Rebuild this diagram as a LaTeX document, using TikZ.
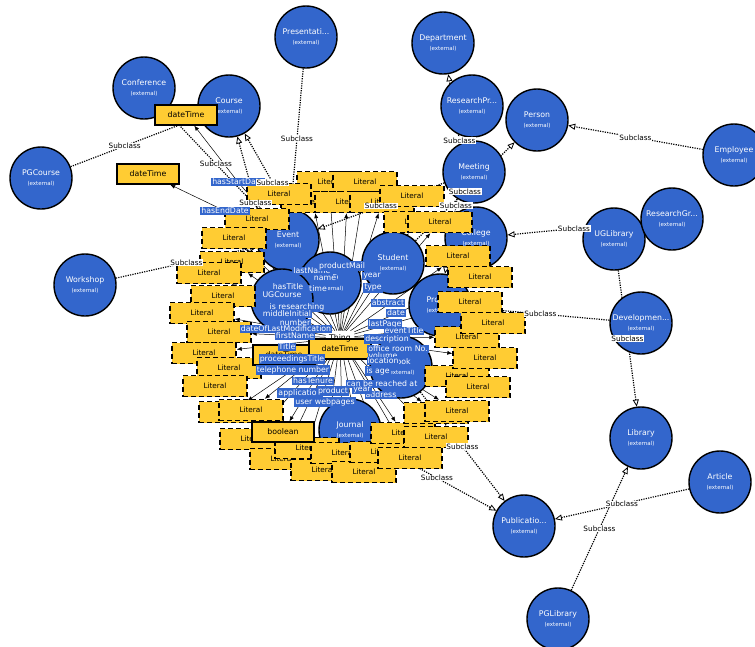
\documentclass[tikz,border=0pt]{standalone}
\usepackage{fontspec}
\setmainfont{DejaVu Sans}
\usetikzlibrary{arrows.meta}
\definecolor{cblue}{RGB}{51,102,204}
\definecolor{lyel}{RGB}{255,204,51}
\pgfdeclarelayer{bg}
\pgfsetlayers{bg,main}
\newcommand{\extl}[1]{#1\\[1pt]{\fontsize{5.5}{6}\selectfont (external)}}
\begin{document}
\begin{tikzpicture}[x=1pt,y=-1pt,
 cls/.style={circle,draw=black,line width=1.4pt,fill=cblue,minimum size=62pt,inner sep=0pt,text=white,font=\fontsize{7.8}{9}\selectfont,align=center},
 lit/.style={draw=black,dash pattern=on 5pt off 3pt,line width=1.4pt,fill=lyel,minimum width=64pt,minimum height=21pt,inner sep=0pt,font=\fontsize{7.3}{8}\selectfont},
 dt/.style={draw=black,line width=1.3pt,fill=lyel,minimum width=62pt,minimum height=20pt,inner sep=0pt,font=\fontsize{7.8}{8}\selectfont},
 plab/.style={fill=cblue,text=white,inner sep=1pt,font=\fontsize{7.8}{8.5}\selectfont},
 sub/.style={fill=white,inner sep=0.6pt,font=\fontsize{7.3}{8}\selectfont},
 subedge/.style={dash pattern=on 1.2pt off 1.2pt,line width=1.2pt,-{Triangle[open,length=7pt,width=6pt,line width=0.8pt]}},
 dedge/.style={line width=0.5pt,-{Latex[length=5pt,width=4pt]}}]
\begin{pgfonlayer}{bg}
\fill[white] (0,0) rectangle (755,646);
\end{pgfonlayer}
\useasboundingbox (0,0) rectangle (755,646);

% classes
\node[cls] (pres) at (306,37) {\extl{Presentati...}};
\node[cls] (conf) at (144,88) {\extl{Conference}};
\node[cls] (course) at (229,106) {\extl{Course}};
\node[cls] (dept) at (443,43) {\extl{Department}};
\node[cls] (rpr) at (472,106) {\extl{ResearchPr...}};
\node[cls] (person) at (537,120) {\extl{Person}};
\node[cls] (meet) at (474,172) {\extl{Meeting}};
\node[cls] (emp) at (734,155) {\extl{Employee}};
\node[cls] (pgc) at (41,178) {\extl{PGCourse}};
\node[cls] (college) at (476,238) {\extl{College}};
\node[cls] (ugl) at (614,239) {\extl{UGLibrary}};
\node[cls] (rgr) at (672,219) {\extl{ResearchGr...}};
\node[cls] (work) at (85,285) {\extl{Workshop}};
\node[cls] (dev) at (641,323) {\extl{Developmen...}};
\node[cls] (lib) at (641,438) {\extl{Library}};
\node[cls] (art) at (720,482) {\extl{Article}};
\node[cls] (pub) at (524,526) {\extl{Publicatio...}};
\node[cls] (pgl) at (558,619) {\extl{PGLibrary}};
\node[cls] (ev) at (288,240) {\extl{Event}};
\node[cls] (stu) at (393,263) {\extl{Student}};
\node[cls] (phd) at (330,283) {\extl{PHD}};
\node[cls] (ugc) at (282,300) {\extl{UGCourse}};
\node[cls] (proj) at (440,305) {\extl{Project}};
\node[cls] (book) at (401,367) {\extl{Book}};
\node[cls] (jour) at (350,430) {\extl{Journal}};

% literals
\node[lit] (L1) at (329,182) {Literal};
\node[lit] (L2) at (365,182) {Literal};
\node[lit] (L3) at (313,202) {Literal};
\node[lit] (L4) at (347,202) {Literal};
\node[lit] (L5) at (382,202) {Literal};
\node[lit] (L6) at (412,196) {Literal};
\node[lit] (L7) at (416,222) {Literal};
\node[lit] (L8) at (440,222) {Literal};
\node[lit] (L9) at (257,219) {Literal};
\node[lit] (L10) at (234,238) {Literal};
\node[lit] (L11) at (232,262) {Literal};
\node[lit] (L12) at (209,273) {Literal};
\node[lit] (L13) at (223,296) {Literal};
\node[lit] (L14) at (202,313) {Literal};
\node[lit] (L15) at (219,332) {Literal};
\node[lit] (L16) at (204,353) {Literal};
\node[lit] (L17) at (229,368) {Literal};
\node[lit] (L18) at (215,386) {Literal};
\node[lit] (L19) at (231,412) {Literal};
\node[lit] (L20) at (251,410) {Literal};
\node[lit] (L21) at (252,439) {Literal};
\node[lit] (L22) at (282,459) {Literal};
\node[lit] (L23) at (307,448) {Literal};
\node[lit] (L24) at (323,470) {Literal};
\node[lit] (L25) at (343,453) {Literal};
\node[lit] (L26) at (364,472) {Literal};
\node[lit] (L27) at (382,452) {Literal};
\node[lit] (L28) at (410,458) {Literal};
\node[lit] (L29) at (403,433) {Literal};
\node[lit] (L30) at (436,437) {Literal};
\node[lit] (L31) at (436,413) {Literal};
\node[lit] (L32) at (457,411) {Literal};
\node[lit] (L33) at (457,376) {Literal};
\node[lit] (L34) at (478,387) {Literal};
\node[lit] (L35) at (485,358) {Literal};
\node[lit] (L36) at (467,337) {Literal};
\node[lit] (L37) at (493,323) {Literal};
\node[lit] (L38) at (470,302) {Literal};
\node[lit] (L39) at (480,277) {Literal};
\node[lit] (L40) at (458,256) {Literal};
\node[lit] (L41) at (279,194) {Literal};

% datatypes
\node[dt] (D1) at (186,115) {dateTime};
\node[dt] (D2) at (148,174) {dateTime};
\node[dt] (D3) at (284,355) {dateTime};
\node[dt] (D4) at (340,349) {dateTime};
\node[dt] (B1) at (283,432) {boolean};
\node[font=\fontsize{7.8}{8}\selectfont] (thing) at (340,338) {Thing};

% property labels
\node[plab] (hs) at (238,182) {hasStartDate};
\node[plab] (he) at (225,211) {hasEndDate};
\node[plab] at (312,271) {lastName};
\node[plab] at (342,266) {productMail};
\node[plab] at (325,278) {name};
\node[plab] at (372,276) {year};
\node[plab] at (373,288) {type};
\node[plab] at (288,287) {hasTitle};
\node[plab] at (318,289) {time};
\node[plab] at (297,307) {is researching};
\node[plab] at (287,314) {middleInitial};
\node[plab] at (388,303) {abstract};
\node[plab] at (396,313) {date};
\node[plab] at (295,323) {number};
\node[plab] at (286,329) {dateOfLastModification};
\node[plab] at (385,324) {lastPage};
\node[plab] at (404,331) {eventTitle};
\node[plab] at (295,336) {firstName};
\node[plab] at (387,339) {description};
\node[plab] at (287,347) {Title};
\node[plab] at (398,349) {office room No.};
\node[plab] at (383,356) {volume};
\node[plab] at (292,359) {proceedingsTitle};
\node[plab] at (383,361) {location};
\node[plab] at (293,370) {telephone number};
\node[plab] at (378,371) {is age};
\node[plab] at (313,381) {hasTenure};
\node[plab] at (382,384) {can be reached at};
\node[plab] at (300,393) {application};
\node[plab] at (381,395) {address};
\node[plab] at (333,391) {product};
\node[plab] at (362,390) {year};
\node[plab] at (325,402) {user webpages};

% edges
\begin{pgfonlayer}{bg}
\foreach \i in {1,...,41} \draw[dedge] (thing) -- (L\i);
\draw[dedge] (thing) -- (D3);
\draw[dedge] (thing) -- (B1);
\draw[dedge] (ev) -- (hs.center) -- (D1);
\draw[dedge] (ev) -- (he.center) -- (D2);
\draw[subedge] (pgc) -- (course);
\draw[subedge] (conf) -- (ev);
\draw[subedge] (ugc) -- (course);
\draw[subedge] (phd) -- (course);
\draw[subedge] (pres) -- (ev);
\draw[subedge] (work) -- (ev);
\draw[subedge] (college) -- (dept);
\draw[subedge] (stu) -- (person);
\draw[subedge] (meet) -- (ev);
\draw[subedge] (rpr) -- (proj);
\draw[subedge] (emp) -- (person);
\draw[subedge] (rgr) -- (college);
\draw[subedge] (dev) -- (proj);
\draw[subedge] (ugl) -- (lib);
\draw[subedge] (art) -- (pub);
\draw[subedge] (pgl) -- (lib);
\draw[subedge] (book) -- (pub);
\draw[subedge] (jour) -- (pub);
\end{pgfonlayer}

% subclass labels
\path (pgc) -- (course) node[sub,pos=0.42] {Subclass};
\path (conf) -- (ev) node[sub,midway] {Subclass};
\path (ugc) -- (course) node[sub,midway] {Subclass};
\path (phd) -- (course) node[sub,pos=0.6] {Subclass};
\path (pres) -- (ev) node[sub,midway] {Subclass};
\path (work) -- (ev) node[sub,midway] {Subclass};
\path (college) -- (dept) node[sub,midway] {Subclass};
\path (stu) -- (person) node[sub,midway] {Subclass};
\path (meet) -- (ev) node[sub,midway] {Subclass};
\path (rpr) -- (proj) node[sub,midway] {Subclass};
\path (emp) -- (person) node[sub,midway] {Subclass};
\path (rgr) -- (college) node[sub,midway] {Subclass};
\path (dev) -- (proj) node[sub,midway] {Subclass};
\path (ugl) -- (lib) node[sub,midway] {Subclass};
\path (art) -- (pub) node[sub,midway] {Subclass};
\path (pgl) -- (lib) node[sub,midway] {Subclass};
\path (book) -- (pub) node[sub,midway] {Subclass};
\path (jour) -- (pub) node[sub,midway] {Subclass};
\end{tikzpicture}
\end{document}
